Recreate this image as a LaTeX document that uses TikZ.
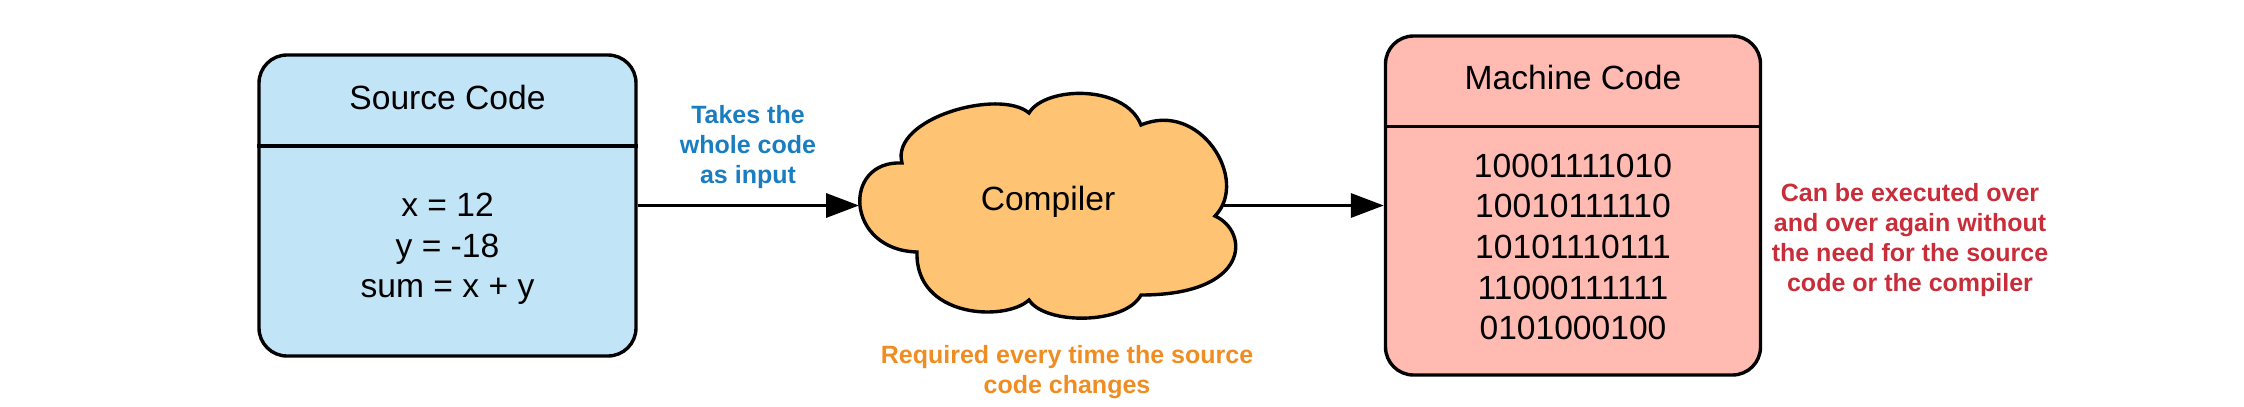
\documentclass[tikz,border=0pt]{standalone}
\usepackage{fontspec}
\setmainfont{Liberation Sans}
\usetikzlibrary{arrows.meta}
\definecolor{srcfill}{HTML}{C1E4F7}
\definecolor{cloudfill}{HTML}{FFC374}
\definecolor{machfill}{HTML}{FFBBB1}
\definecolor{bluetxt}{HTML}{1A7DBF}
\definecolor{redtxt}{HTML}{C92D39}
\definecolor{orangetxt}{HTML}{EF8D22}
\tikzset{
  box/.style={draw=black, line width=1.7pt, rounded corners=14pt, inner sep=0pt},
  divider/.style={line width=1.7pt},
  bigtext/.style={inner sep=0pt, align=center, font=\fontsize{16.8}{20.3}\selectfont},
  note/.style={inner sep=0pt, align=center, font=\fontsize{12.5}{15}\selectfont\bfseries},
  conn/.style={line width=1.7pt, -{Triangle[length=16.5pt,width=12pt]}},
}
\begin{document}
\begin{tikzpicture}[x=0.5pt,y=-0.5pt]
\useasboundingbox (0,0) rectangle (2244,407);
% Source code box
\node[box, fill=srcfill, minimum width=188.5pt, minimum height=150.5pt] (src) at (447.5,205.5) {};
\draw[divider] (src.west |- 0,146) -- (src.east |- 0,146);
\node[bigtext] (srctitle) at (447.5,97) {Source Code};
\node[bigtext] (srcbody) at (447.5,249) {x = 12\\y = -18\\sum = x + y};
% Machine code box
\node[box, fill=machfill, minimum width=187.5pt, minimum height=169.5pt] (mach) at (1573,205.5) {};
\draw[divider] (mach.west |- 0,126.5) -- (mach.east |- 0,126.5);
\node[bigtext] (machtitle) at (1573,77.5) {Machine Code};
\node[bigtext] (machbody) at (1573,247) {10001111010\\10010111110\\10101110111\\11000111111\\0101000100};
% Cloud
\draw[line width=1.7pt, fill=cloudfill]
  (902,163) .. controls (890,118) and (1000,88) .. (1029,113)
  .. controls (1045,86) and (1125,84) .. (1141,125)
  .. controls (1200,100) and (1250,180) .. (1215,216)
  .. controls (1250,232) and (1250,295) .. (1141,295)
  .. controls (1125,325) and (1045,325) .. (1029,300)
  .. controls (1005,322) and (915,318) .. (917,252)
  .. controls (845,250) and (842,160) .. cycle;
\node[bigtext] (cloud) at (1048,202) {Compiler};
\coordinate (cloudW) at (859,205.5);
\coordinate (cloudE) at (1222,205.5);
% Connectors
\draw[conn] (src.east) -- (cloudW);
\draw[conn] (cloudE) -- (mach.west);
% Notes
\node[note, text=bluetxt] (n1) at (748,147) {Takes the\\whole code\\as input};
\node[note, text=orangetxt] (n2) at (1067,372) {Required every time the source\\code changes};
\node[note, text=redtxt] (n3) at (1910,240) {Can be executed over\\and over again without\\the need for the source\\code or the compiler};
\end{tikzpicture}
\end{document}
